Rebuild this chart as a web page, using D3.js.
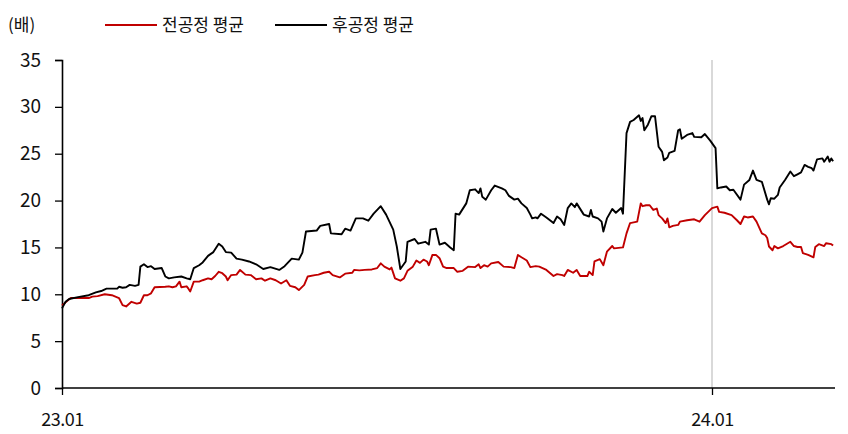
<!DOCTYPE html>
<html><head><meta charset="utf-8">
<script src="https://cdn.jsdelivr.net/npm/d3@7"></script>
<style>
html,body{margin:0;padding:0;background:#fff;}
svg text{font-family:"Noto Sans CJK KR","Noto Sans",sans-serif;fill:#111;}
</style></head>
<body>
<svg id="chart" width="848" height="434"></svg>
<script>
// x values are days since the first trading day of 2023 (23.01)
const seriesNames = ["전공정 평균", "후공정 평균"];
const seriesColors = ["#c00000", "#000000"];

const frontDays = [0,3,5,11,15,17,20,24,28,32,34,36,39,42,44,46,48,50,52,58,60,62,64,66,67,70,71,72,74,77,79,82,84,86,88,90,92,93,95,98,100,103,106,109,112,114,117,120,123,126,128,131,133,136,138,142,144,147,150,152,156,159,163,164,167,170,174,177,179,181,184,185,187,190,192,194,197,199,201,203,205,206,208,210,212,214,216,220,222,225,228,232,234,235,237,239,241,245,248,252,254,256,258,261,263,266,268,272,276,278,281,282,284,287,289,291,295,296,298,299,302,304,306,309,310,315,317,319,323,325,326,328,330,332,334,335,337,339,340,341,343,346,347,351,355,358,361,365,368,369,372,376,379,381,383,385,388,390,393,395,396,397,399,400,402,405,409,411,413,415,416,419,422,423,425,428,429,432,433];
const frontValues = [8.8,9.3,9.6,9.6,9.6,9.75,9.8,10.0,9.9,9.6,8.85,8.7,9.2,9.0,9.1,9.9,9.9,10.1,10.75,10.8,10.85,10.75,10.85,11.35,10.75,10.85,10.6,10.3,11.35,11.35,11.5,11.7,11.6,11.95,12.4,12.25,11.9,11.5,12.05,12.1,12.6,12.1,12.05,11.6,11.7,11.45,11.7,11.5,11.15,11.5,10.9,10.75,10.45,11.0,11.9,12.05,12.1,12.3,12.4,12.05,11.8,12.2,12.3,12.6,12.55,12.6,12.65,12.8,13.3,12.95,12.65,12.85,11.7,11.45,11.7,12.5,12.95,13.6,13.35,13.7,13.5,13.1,14.2,14.2,13.85,12.95,12.8,12.8,12.4,12.5,12.95,12.9,13.2,12.8,13.1,12.95,13.3,13.45,12.95,12.9,12.8,14.2,13.95,13.6,12.9,13.0,12.95,12.6,11.95,12.15,12.05,11.95,12.6,12.3,12.6,11.95,11.95,12.4,12.05,13.5,13.75,13.1,14.55,15.15,14.9,15.0,16.5,17.6,17.75,19.7,19.4,19.5,19.5,19.0,19.15,18.45,18.1,17.6,18.1,17.15,17.3,17.4,17.75,17.9,18.0,17.75,18.45,19.2,19.35,18.8,18.7,18.45,17.9,17.5,18.3,18.2,18.3,17.75,16.5,16.3,16.0,15.1,14.7,15.15,14.9,15.15,15.6,15.15,15.05,15.05,14.4,14.2,13.95,15.05,15.35,15.15,15.45,15.35,15.2];

const backDays = [0,2,4,9,15,19,22,25,31,32,34,36,38,41,43,44,46,48,50,52,56,58,60,63,67,70,72,74,77,79,82,85,88,90,92,95,98,101,105,109,113,117,122,125,129,133,135,137,143,145,150,151,157,159,162,165,169,172,175,179,182,186,188,190,193,194,198,200,204,206,207,210,212,215,218,220,221,223,227,229,232,234,235,236,238,241,243,247,249,251,254,256,258,261,263,264,266,267,269,272,276,278,280,282,284,286,288,289,293,296,297,298,301,303,304,306,309,311,314,315,317,319,321,324,325,326,327,329,331,333,335,337,338,340,341,344,346,347,348,351,354,355,359,361,364,367,368,370,373,375,377,381,383,386,388,390,393,396,397,398,400,402,403,406,409,411,413,415,417,419,421,422,424,427,428,430,431,432,433];
const backValues = [8.5,9.2,9.5,9.7,9.9,10.2,10.35,10.6,10.6,10.8,10.7,10.75,11.0,10.9,11.0,12.95,13.2,12.9,13.0,12.7,12.8,11.9,11.7,11.8,11.9,11.7,11.6,12.8,13.1,13.4,14.1,14.5,15.4,15.1,14.5,14.45,13.8,13.7,13.5,13.2,12.7,12.9,12.6,13.0,13.8,13.7,14.45,16.7,16.8,17.3,17.5,16.5,16.4,17.0,16.8,18.1,18.1,17.85,18.6,19.4,18.5,16.9,15.1,12.7,13.5,15.6,15.9,15.4,15.6,15.3,16.9,17.0,15.3,15.5,15.0,14.7,18.6,18.5,19.7,21.1,21.2,20.8,21.3,20.4,20.1,21.1,21.6,21.3,21.1,20.5,20.1,20.2,19.7,19.2,18.5,18.1,18.2,18.1,18.6,18.2,17.6,18.3,18.0,17.4,19.2,19.7,19.3,19.7,18.5,18.3,19.0,18.3,18.1,17.75,16.7,18.1,19.1,18.7,19.2,18.6,27.2,28.4,28.6,29.1,28.5,28.8,27.5,28.1,29.0,29.0,25.75,25.2,24.3,24.6,25.1,25.3,27.5,27.6,26.6,27.0,27.2,26.8,26.75,27.1,26.4,25.6,21.3,21.4,21.5,21.1,21.15,20.1,21.7,22.2,23.2,22.2,22.0,20.1,19.6,20.25,20.2,20.6,21.4,22.2,23.1,22.6,22.8,23.0,23.8,23.6,23.45,23.2,24.4,24.5,24.15,24.7,24.15,24.5,24.2];

const yTicks = [0,5,10,15,20,25,30,35];
const xTickDays = [0,365];
const xTickLabels = ["23.01","24.01"];
const gridDays = [365];
const unitLabel = "(배)";

const svg = d3.select("#chart");
const x = d3.scaleLinear().domain([0,365]).range([62,712]);
const y = d3.scaleLinear().domain([0,35]).range([388,60]);

// vertical grid line at 24.01
svg.selectAll(".grid").data(gridDays).enter().append("line")
  .attr("x1",d=>x(d)).attr("x2",d=>x(d)).attr("y1",y(35)).attr("y2",y(0))
  .attr("stroke","#d9d9d9").attr("stroke-width",2);

// y axis
const yAxis = svg.append("g").attr("transform","translate(62,0)")
  .call(d3.axisLeft(y).tickValues(yTicks).tickSize(7).tickPadding(14).tickFormat(d3.format("d")));
yAxis.select(".domain").attr("stroke","#000").attr("stroke-width",1.6);
yAxis.selectAll(".tick line").attr("stroke","#000").attr("stroke-width",1.3);
yAxis.selectAll("text").attr("font-size",19).attr("fill","#111")
  .style("font-family","'Noto Sans CJK KR','Noto Sans',sans-serif");

// x axis
const xAxis = svg.append("g").attr("transform","translate(0,388)")
  .call(d3.axisBottom(x).tickValues(xTickDays).tickSize(7).tickPadding(18)
    .tickFormat((d,i)=>xTickLabels[i]));
xAxis.select(".domain").attr("d","M62,0H835").attr("stroke","#000").attr("stroke-width",1.6);
xAxis.selectAll(".tick line").attr("stroke","#000").attr("stroke-width",1.3);
xAxis.selectAll("text").attr("font-size",18).attr("fill","#111")
  .style("font-family","'Noto Sans CJK KR','Noto Sans',sans-serif").attr("letter-spacing","-0.5");

const line = d3.line().x(d=>x(d[0])).y(d=>y(d[1]));
const front = frontDays.map((d,i)=>[d,frontValues[i]]);
const back = backDays.map((d,i)=>[d,backValues[i]]);

svg.append("path").datum(front).attr("d",line).attr("fill","none")
  .attr("stroke",seriesColors[0]).attr("stroke-width",1.9).attr("stroke-linejoin","round");
svg.append("path").datum(back).attr("d",line).attr("fill","none")
  .attr("stroke",seriesColors[1]).attr("stroke-width",1.9).attr("stroke-linejoin","round");

// unit label
svg.append("text").attr("x",8).attr("y",31).attr("font-size",17).text(unitLabel);

// legend
const legendX = [105, 275];
seriesNames.forEach((n,i)=>{
  svg.append("line").attr("x1",legendX[i]).attr("x2",legendX[i]+52)
    .attr("y1",25).attr("y2",25).attr("stroke",seriesColors[i]).attr("stroke-width",1.9);
  svg.append("text").attr("x",legendX[i]+57).attr("y",31).attr("font-size",17).text(n);
});
</script>
</body></html>
